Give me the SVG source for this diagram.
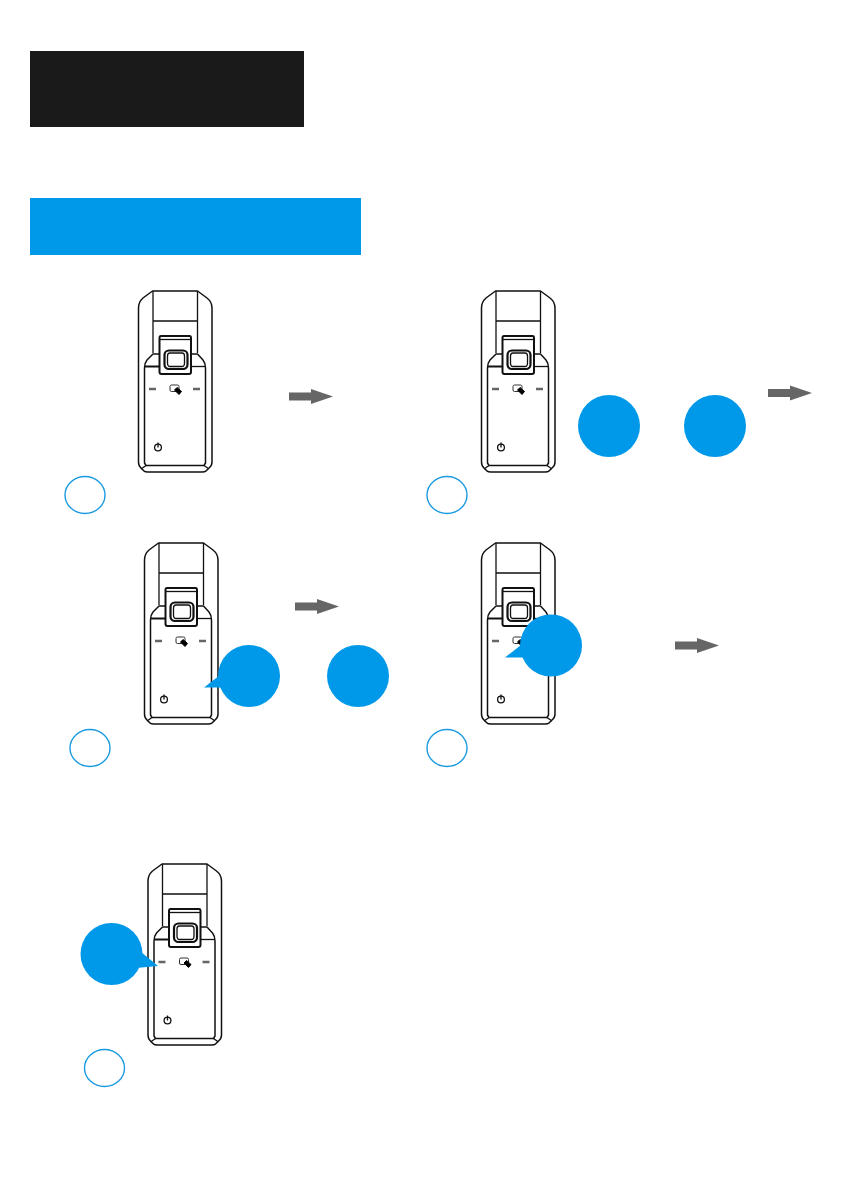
<svg xmlns="http://www.w3.org/2000/svg" width="850" height="1191" viewBox="0 0 850 1191">
<style>
.o{fill:none;stroke:#111;stroke-width:1.500;stroke-linejoin:round}
.n{fill:none;stroke:#111;stroke-width:1.300;stroke-linejoin:round}
.t{fill:none;stroke:#111;stroke-width:2;stroke-linejoin:round}
.d{stroke:#666;stroke-width:2.500;fill:none}
.b{fill:#0098e8}
.r{fill:#fff;stroke:#1a9ae0;stroke-width:1.400}
</style>
<defs>
<g id="device">
<path class="o" d="M152.500,291H197.500L207,298Q212,302 212,308V462Q212,466 209,468L206,471Q205,472 202,472H148Q145,472 144,471L141,468Q138.500,466 138.500,462V308Q138.500,302 143,298Z"/>
<path class="n" d="M153,291V353M197.500,291V353M153,321H197.500"/>
<path class="o" d="M159,354H153L147,360Q144.500,363 144.500,368V463L146,465.500H204L205.500,463V368Q205.500,363 203,360L197.500,354H191"/>
<path class="n" d="M146,465.500L141,469M204,465.500L209,469"/>
<path class="t" d="M144.500,366.500H159.500"/>
<path class="n" d="M191,366.500H205.500"/>
<path class="t" d="M161,336H189.500Q191,336 191,338V372Q191,374 189,374H161.500Q159.500,374 159.500,372V338Q159.500,336 161,336Z"/>
<path class="n" d="M160,339.500H190.500"/>
<rect x="164.500" y="350.500" width="23" height="18.500" rx="4.500" fill="none" stroke="#111" stroke-width="2.200"/>
<path class="n" d="M170,353H182Q184.500,353 184.500,356V363Q184.500,366.500 182,366.500H170Q167.500,366.500 167.500,363V356Q167.500,353 170,353Z"/>
<path class="d" d="M149,389H156M193,389H200"/>
<rect x="170" y="385" width="9" height="6.500" rx="1.500" fill="#fff" stroke="#333" stroke-width="1"/>
<path d="M174.500,390L177,387.500L181.500,391.500L179,394.500Z" fill="#000" stroke="#000" stroke-width="1"/>
<circle cx="158" cy="447.500" r="3.400" fill="none" stroke="#111" stroke-width="1.300"/>
<path d="M158,442.500V447.500" stroke="#111" stroke-width="1.300"/>
</g>
<path id="arrow" d="M0,-4H22V-7.500L44,0L22,7.500V4H0Z" fill="#666"/>
</defs>
<g id="title-bar"><rect x="30" y="51" width="274" height="76" fill="#1a1a1a"/></g>
<g id="section-bar"><rect x="30" y="198" width="331" height="57" fill="#0098e8"/></g>
<g id="step-1">
<use href="#device"/>
<ellipse class="r" cx="85" cy="495" rx="20" ry="18.500"/>
</g>
<g id="step-2">
<use href="#device" x="343"/>
<ellipse class="r" cx="447" cy="495" rx="20" ry="18.500"/>
<circle class="b" cx="609" cy="426" r="31"/>
<circle class="b" cx="715" cy="426" r="31"/>
</g>
<g id="step-3">
<use href="#device" x="6" y="252"/>
<ellipse class="r" cx="90" cy="748" rx="20" ry="18.500"/>
<path class="b" d="M204,687.500L224,672V687.500Z"/>
<circle class="b" cx="249" cy="676" r="31"/>
<circle class="b" cx="358" cy="676" r="31"/>
</g>
<g id="step-4">
<use href="#device" x="343" y="252"/>
<ellipse class="r" cx="447" cy="748" rx="20" ry="18.500"/>
<path class="b" d="M505,657.500L526,641V657.500Z"/>
<circle class="b" cx="551" cy="645.500" r="31"/>
</g>
<g id="step-5">
<use href="#device" x="9.500" y="573"/>
<ellipse class="r" cx="104.500" cy="1068" rx="20" ry="18.500"/>
<path class="b" d="M158,966L136,968L141,952Z"/>
<circle class="b" cx="111.500" cy="954" r="31"/>
</g>
<g id="connectors">
<use href="#arrow" x="289" y="396.500"/>
<use href="#arrow" x="768" y="393"/>
<use href="#arrow" x="295" y="606.500"/>
<use href="#arrow" x="675" y="645.500"/>
</g>
</svg>
